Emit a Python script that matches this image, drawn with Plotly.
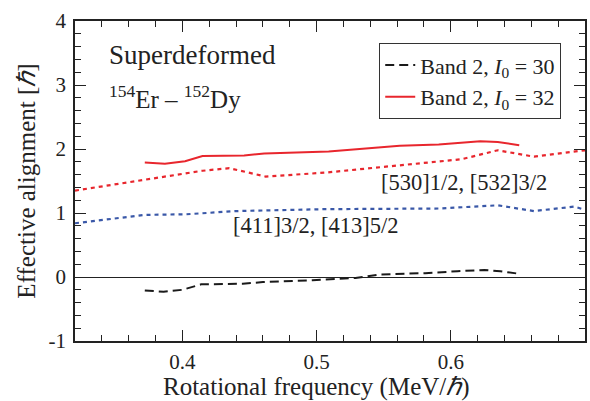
import plotly.graph_objects as go

# Band 2, I0 = 32 (red solid)
w_32 = [0.372, 0.387, 0.402, 0.415, 0.446, 0.461, 0.509, 0.534, 0.562, 0.591, 0.622, 0.635, 0.651]
a_32 = [1.79, 1.77, 1.81, 1.89, 1.90, 1.93, 1.96, 2.00, 2.05, 2.07, 2.12, 2.11, 2.06]

# Band 2, I0 = 30 (black dashed)
w_30 = [0.372, 0.386, 0.400, 0.414, 0.445, 0.460, 0.497, 0.529, 0.548, 0.581, 0.605, 0.625, 0.637, 0.651]
a_30 = [-0.21, -0.23, -0.20, -0.115, -0.105, -0.08, -0.05, -0.015, 0.04, 0.06, 0.09, 0.11, 0.09, 0.05]

# [530]1/2, [532]3/2 (red dotted)
w_530 = [0.32, 0.376, 0.391, 0.415, 0.435, 0.462, 0.506, 0.576, 0.608, 0.635, 0.662, 0.70]
a_530 = [1.35, 1.53, 1.58, 1.66, 1.70, 1.57, 1.63, 1.78, 1.84, 1.98, 1.88, 1.98]

# [411]3/2, [413]5/2 (blue dotted)
w_411 = [0.32, 0.372, 0.403, 0.44, 0.506, 0.591, 0.635, 0.662, 0.692, 0.70]
a_411 = [0.84, 0.97, 0.98, 1.03, 1.06, 1.07, 1.12, 1.03, 1.10, 1.05]

x_ticks = [0.4, 0.5, 0.6]
x_labels = ["0.4", "0.5", "0.6"]
y_ticks = [-1, 0, 1, 2, 3, 4]
y_labels = ["-1", "0", "1", "2", "3", "4"]

RED = "#e8262d"
BLUE = "#3a58a8"
FONT = "Liberation Serif"
TXT = "#222"

fig = go.Figure()
fig.add_trace(go.Scatter(x=w_530, y=a_530, mode="lines", showlegend=False,
                         line=dict(color=RED, width=2.2, dash="4px,4px")))
fig.add_trace(go.Scatter(x=w_411, y=a_411, mode="lines", showlegend=False,
                         line=dict(color=BLUE, width=2.2, dash="4px,4px")))
fig.add_trace(go.Scatter(x=w_30, y=a_30, mode="lines", name="Band 2, <i>I</i><sub>0</sub> = 30",
                         line=dict(color="#1a1a1a", width=2, dash="9px,5px")))
fig.add_trace(go.Scatter(x=w_32, y=a_32, mode="lines", name="Band 2, <i>I</i><sub>0</sub> = 32",
                         line=dict(color=RED, width=2)))

axis_common = dict(showline=True, linecolor=TXT, linewidth=1.5, mirror="ticks",
                   ticks="inside", ticklen=11, tickwidth=1.3, tickcolor=TXT,
                   showgrid=False, tickfont=dict(family=FONT, size=21, color=TXT))

fig.update_xaxes(range=[0.32, 0.70], tickvals=x_ticks, ticktext=x_labels,
                 minor=dict(dtick=0.02, tick0=0.4, ticks="inside", ticklen=6, tickwidth=1.2, tickcolor=TXT),
                 ticklabelstandoff=1, zeroline=False, **axis_common)
fig.update_yaxes(range=[-1, 4], tickvals=y_ticks, ticktext=y_labels,
                 minor=dict(dtick=0.2, tick0=0, ticks="inside", ticklen=6, tickwidth=1.2, tickcolor=TXT),
                 ticklabelstandoff=3,
                 title=dict(text="Effective alignment [<i>ℏ</i>]", font=dict(family=FONT, size=25, color=TXT),
                            standoff=6),
                 zeroline=True, zerolinecolor=TXT, zerolinewidth=1.2, **axis_common)

# x-axis title placed as annotation (slightly left of centre, as in reference)
fig.add_annotation(x=0.473, y=-0.143, xref="paper", yref="paper", text="Rotational frequency (MeV/<i>ℏ</i>)",
                   showarrow=False, xanchor="center", yanchor="middle",
                   font=dict(family=FONT, size=25, color=TXT))

fig.add_annotation(x=0.3437, y=3.47, xref="x", yref="y", text="Superdeformed", showarrow=False,
                   xanchor="left", yanchor="middle", font=dict(family=FONT, size=27, color=TXT))
fig.add_annotation(x=0.3437, y=2.81, xref="x", yref="y", text="<sup>154</sup>Er – <sup>152</sup>Dy",
                   showarrow=False, xanchor="left", yanchor="middle",
                   font=dict(family=FONT, size=25, color=TXT))
fig.add_annotation(x=0.5467, y=1.47, xref="x", yref="y", text="[530]1/2, [532]3/2", showarrow=False,
                   xanchor="left", yanchor="middle", font=dict(family=FONT, size=22.5, color=TXT))
fig.add_annotation(x=0.4363, y=0.81, xref="x", yref="y", text="[411]3/2, [413]5/2", showarrow=False,
                   xanchor="left", yanchor="middle", font=dict(family=FONT, size=22.5, color=TXT))

fig.update_layout(
    width=590, height=401,
    margin=dict(l=75, r=3, t=21, b=60),
    paper_bgcolor="white", plot_bgcolor="white",
    font=dict(family=FONT, color=TXT),
    legend=dict(x=0.953, y=0.931, xanchor="right", yanchor="top",
                bordercolor="#333", borderwidth=1.2, bgcolor="white",
                font=dict(family=FONT, size=22, color=TXT),
                tracegroupgap=0, itemwidth=30),
)

fig.write_html("out.html")
